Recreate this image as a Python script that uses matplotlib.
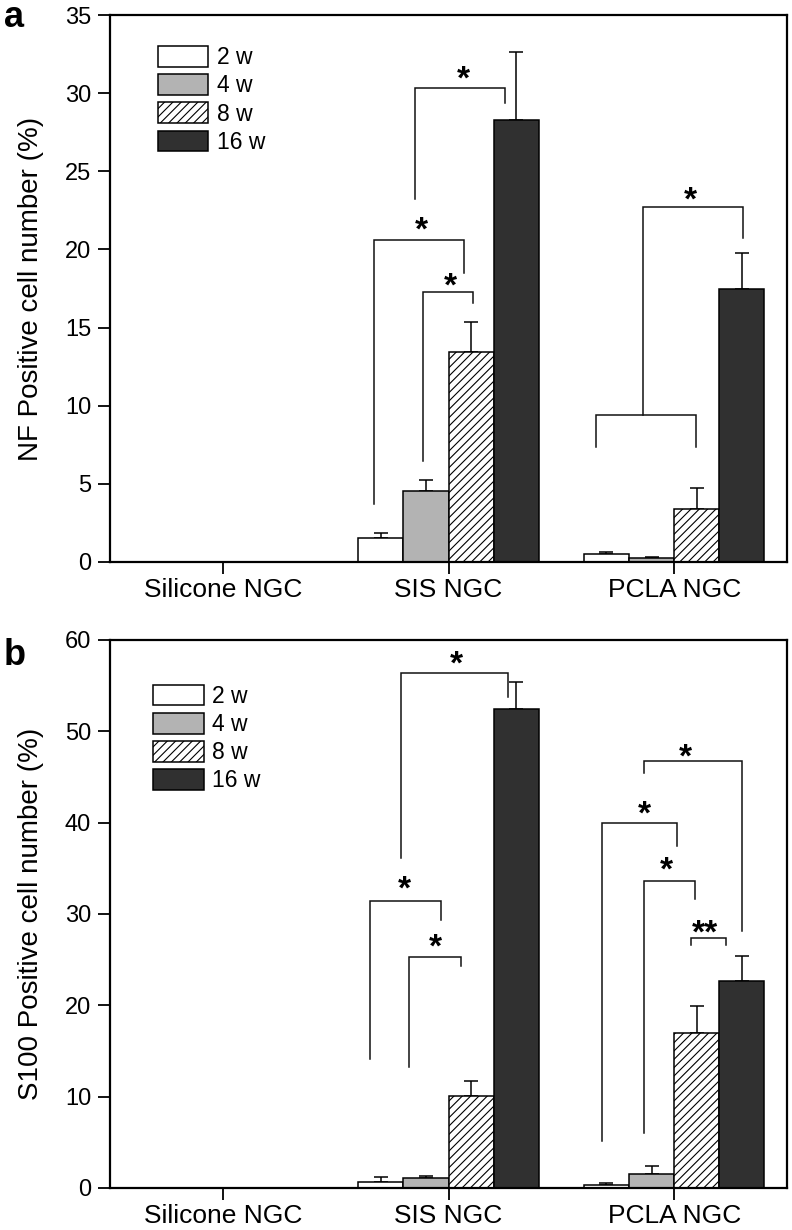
import matplotlib
matplotlib.use("Agg")
import matplotlib.pyplot as plt
import numpy as np
from matplotlib.patches import Patch

plt.rcParams['font.family'] = ['Liberation Sans', 'DejaVu Sans']
plt.rcParams['hatch.linewidth'] = 0.8

categories = ['Silicone NGC', 'SIS NGC', 'PCLA NGC']
weeks = ['2 w', '4 w', '8 w', '16 w']

# Panel a: NF positive cell number (%)
nf_2w = [0, 1.56, 0.49]
nf_2w_err = [0, 0.32, 0.15]
nf_4w = [0, 4.52, 0.26]
nf_4w_err = [0, 0.70, 0.06]
nf_8w = [0, 13.43, 3.37]
nf_8w_err = [0, 1.94, 1.38]
nf_16w = [0, 28.3, 17.5]
nf_16w_err = [0, 4.35, 2.25]

# Panel b: S100 positive cell number (%)
s100_2w = [0, 0.64, 0.38]
s100_2w_err = [0, 0.56, 0.15]
s100_4w = [0, 1.06, 1.57]
s100_4w_err = [0, 0.26, 0.85]
s100_8w = [0, 10.1, 17.0]
s100_8w_err = [0, 1.65, 2.9]
s100_16w = [0, 52.5, 22.7]
s100_16w_err = [0, 2.85, 2.7]

# significance brackets:
# (group, x_left, x_right, y_top, y_left_end, y_right_end, label, label_x, label_y)
nf_brackets = [
    (1, -0.15, 0.25, 30.3, 23.2, 29.4, '*', 0.066, 31.5),
    (1, -0.33, 0.07, 20.6, 3.73, 18.5, '*', -0.119, 21.9),
    (1, -0.115, 0.11, 17.3, 6.46, 16.6, '*', 0.007, 18.3),
    (2, -0.137, 0.306, 22.7, 9.38, 20.7, '*', 0.074, 23.8),
    (2, -0.348, 0.095, 9.38, 7.36, 7.36, '', 0, 0),
]
s100_brackets = [
    (1, -0.2125, 0.263, 56.4, 36.1, 53.8, '*', 0.033, 58.4),
    (1, -0.35, -0.033, 31.4, 14.1, 29.3, '*', -0.196, 33.8),
    (1, -0.174, 0.055, 25.3, 13.2, 24.3, '*', -0.059, 27.5),
    (2, -0.134, 0.30, 46.7, 45.4, 28.1, '*', 0.052, 48.3),
    (2, -0.32, 0.012, 40.0, 5.1, 37.4, '*', -0.134, 42.0),
    (2, -0.134, 0.094, 33.6, 6.0, 31.6, '*', -0.034, 35.9),
    (2, 0.073, 0.23, 27.4, 26.6, 26.6, '**', 0.137, 29.0),
]

colors = ['white', '#b3b3b3', 'white', '#303030']
hatches = [None, None, '////', None]
offsets = [-0.3, -0.1, 0.1, 0.3]
width = 0.2
STAR_FS = 24

fig = plt.figure(figsize=(7.92, 12.3), dpi=100)
ax_a = fig.add_axes([110/792, 1-562/1230, 677/792, 547/1230])
ax_b = fig.add_axes([110/792, 1-1188/1230, 677/792, 548/1230])


def draw(ax, series, errs, brackets, ymax, ystep, ylabel, leg_xy):
    x = np.arange(len(categories))
    for i in range(4):
        ax.bar(x + offsets[i], series[i], width, color=colors[i], edgecolor='black',
               linewidth=1.1, hatch=hatches[i], zorder=2)
        ax.errorbar(x + offsets[i], series[i], yerr=[np.zeros(len(x)), errs[i]],
                    fmt='none', ecolor='black', elinewidth=1.1, capsize=5,
                    capthick=1.1, zorder=1)
    for g, xl, xr, yt, yle, yre, lab, lx, ly in brackets:
        ax.plot([g + xl, g + xl, g + xr, g + xr], [yle, yt, yt, yre],
                color='#111111', lw=1.1, zorder=3, solid_joinstyle='miter')
        if lab:
            ax.annotate(lab, xy=(g + lx, ly), xytext=(0, -0.58 * STAR_FS),
                        textcoords='offset points', ha='center', va='baseline',
                        fontsize=STAR_FS, fontweight='bold')
    ax.set_xlim(-0.5, 2.5)
    ax.set_ylim(0, ymax)
    ax.set_yticks(np.arange(0, ymax + 0.1, ystep))
    ax.set_xticks(x)
    ax.set_xticklabels(categories, fontsize=19)
    ax.tick_params(axis='y', labelsize=17, length=8.6, width=1.3, direction='out', pad=5)
    ax.tick_params(axis='x', length=8.6, width=1.3, direction='out', pad=3)
    for s in ax.spines.values():
        s.set_linewidth(1.6)
    ax.set_ylabel(ylabel, fontsize=20)
    ax.yaxis.set_label_coords(-0.098, 0.5)
    handles = [Patch(facecolor=colors[i], edgecolor='black', hatch=hatches[i], linewidth=1.1)
               for i in range(4)]
    ax.legend(handles, weeks, loc='upper left', bbox_to_anchor=leg_xy, frameon=False,
              fontsize=16.5, handlelength=2.2, handleheight=1.0, labelspacing=0.22,
              handletextpad=0.35, borderpad=0, borderaxespad=0)


draw(ax_a, [nf_2w, nf_4w, nf_8w, nf_16w], [nf_2w_err, nf_4w_err, nf_8w_err, nf_16w_err],
     nf_brackets, 35, 5, 'NF Positive cell number (%)', (0.071, 0.943))
draw(ax_b, [s100_2w, s100_4w, s100_8w, s100_16w],
     [s100_2w_err, s100_4w_err, s100_8w_err, s100_16w_err],
     s100_brackets, 60, 10, 'S100 Positive cell number (%)', (0.064, 0.918))

fig.text(4/792, 1-27/1230, 'a', fontsize=26, fontweight='bold', va='baseline')
fig.text(4/792, 1-665/1230, 'b', fontsize=26, fontweight='bold', va='baseline')

fig.savefig('out.png', dpi=100)
